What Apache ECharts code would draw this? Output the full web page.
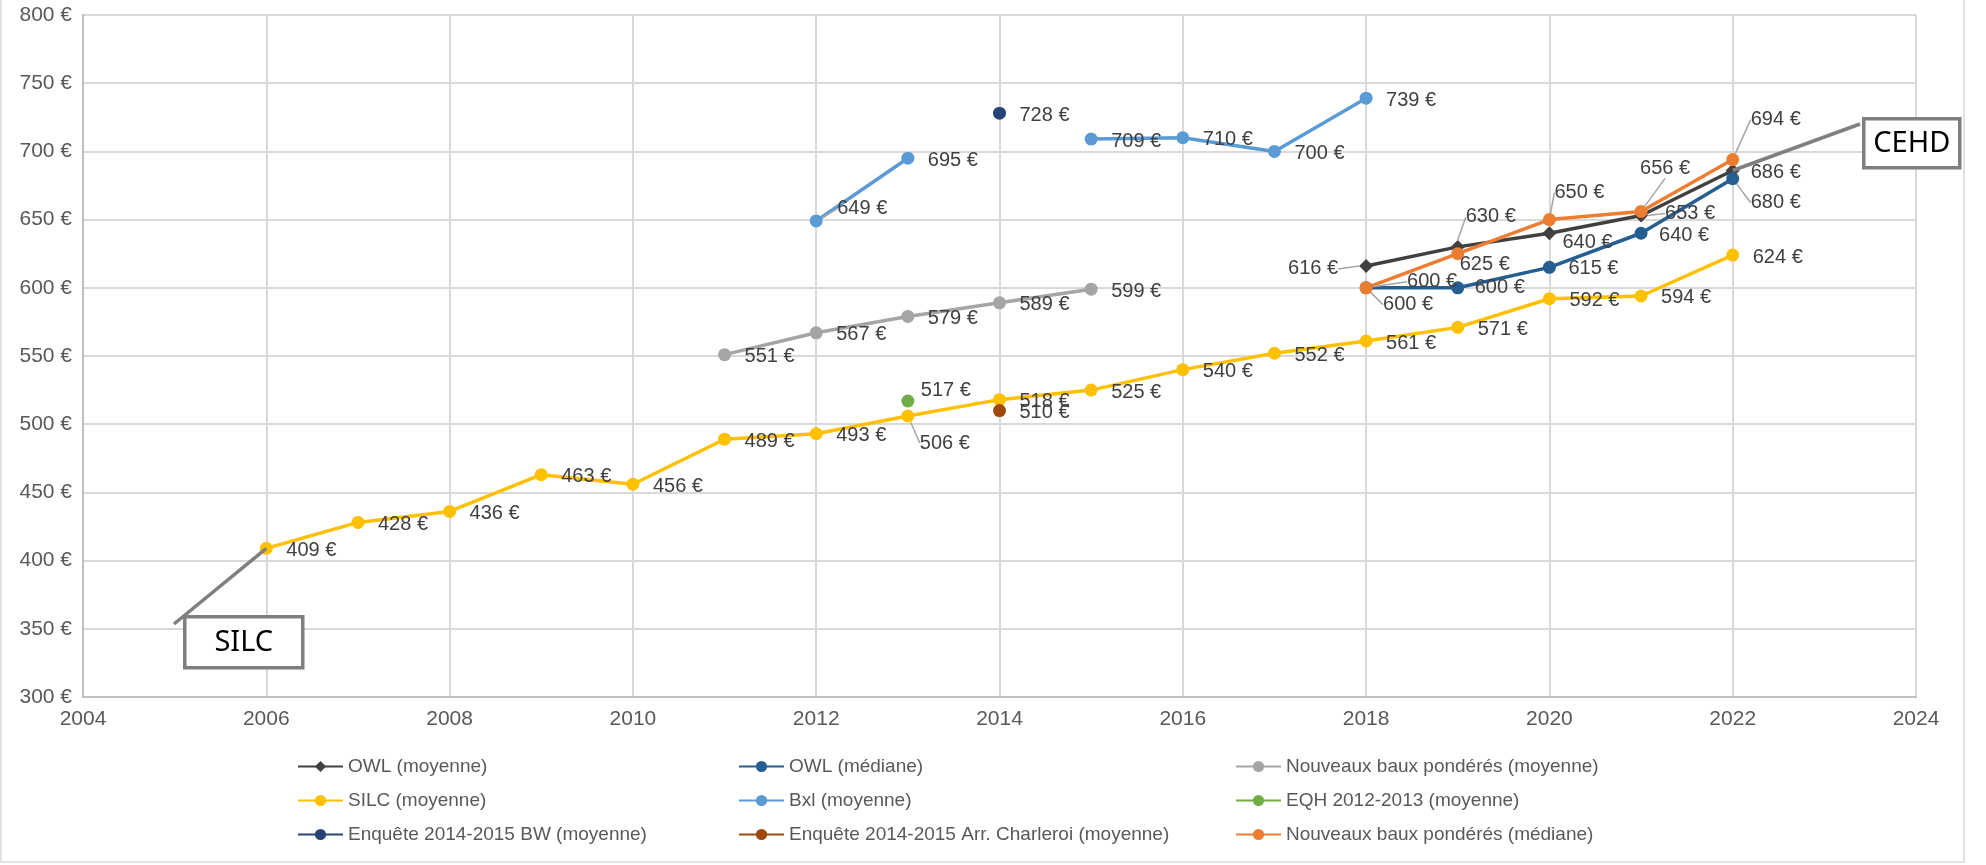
<!DOCTYPE html>
<html>
<head>
<meta charset="utf-8">
<script src="https://cdn.jsdelivr.net/npm/echarts@6/dist/echarts.min.js"></script>
<style>
  html, body { margin: 0; padding: 0; background: #ffffff; }
  #chart { width: 1986px; height: 865px; }
</style>
</head>
<body>
<div id="chart"></div>
<script>
// Loyers mensuels selon les différentes sources (en €)
const owlYears = [2018, 2019, 2020, 2021, 2022];
const owlMoyenne = [616, 630, 640, 653, 686];
const owlMediane = [600, 600, 615, 640, 680];

const nbMoyYears = [2011, 2012, 2013, 2014, 2015];
const nbMoyenne = [551, 567, 579, 589, 599];

const silcYears = [2006, 2007, 2008, 2009, 2010, 2011, 2012, 2013, 2014, 2015, 2016, 2017, 2018, 2019, 2020, 2021, 2022];
const silcMoyenne = [409, 428, 436, 463, 456, 489, 493, 506, 518, 525, 540, 552, 561, 571, 592, 594, 624];

const bxlYears = [2012, 2013, 2014, 2015, 2016, 2017, 2018];
const bxlMoyenne = [649, 695, null, 709, 710, 700, 739];

const eqhYears = [2013];
const eqhMoyenne = [517];

const bwYears = [2014];
const bwMoyenne = [728];

const charleroiYears = [2014];
const charleroiMoyenne = [510];

const nbMedYears = [2018, 2019, 2020, 2021, 2022];
const nbMediane = [600, 625, 650, 656, 694];

// axis ranges
const yearMin = 2004, yearMax = 2024, yearStep = 2;
const rentMin = 300, rentMax = 800, rentStep = 50;

// callout texts
const calloutSilc = 'SILC';
const calloutCehd = 'CEHD';

// ---- presentation ----
const FONT = '"Liberation Sans", Arial, sans-serif';
const LABEL_COLOR = '#404040';
const AXIS_TEXT = '#595959';
const LEAD_COLOR = '#A6A6A6';

// label placement per series / point: dx = left edge offset, dy = vertical centre offset,
// lead = leader line points relative to the marker centre
const DEFAULT_SPOT = { dx: 20, dy: 2 };
const labelSpots = {
  'OWL (moyenne)': {
    0: { dx: -28, dy: 3, align: 'right', lead: [[-8, 2], [-13, 2], [-19, 2]] },
    1: { dx: 8, dy: -30, lead: [[4, -4], [17, -9], [31, -15]] },
    2: { dx: 13, dy: 9 },
    3: { dx: 24, dy: -2, lead: [[9, -2], [15, -2], [22, -2]] },
    4: { dx: 18, dy: 2 }
  },
  'OWL (médiane)': {
    0: { dx: 41, dy: -6, lead: [[7, -9], [20, -9], [34, -9]] },
    1: { dx: 17, dy: 0 },
    2: { dx: 19, dy: 1 },
    3: { dx: 18, dy: 2 },
    4: { dx: 18, dy: 24, lead: [[1, 7], [1, 24], [14, 24]] }
  },
  'SILC (moyenne)': {
    7: { dx: 12, dy: 27, lead: [[5, 3], [20, 7], [36, 11]] }
  },
  'Bxl (moyenne)': {
    0: { dx: 21, dy: -12, lead: [[6, -4], [11, -7], [17, -10]] }
  },
  'EQH 2012-2013 (moyenne)': {
    0: { dx: 13, dy: -11 }
  },
  'Nouveaux baux pondérés (médiane)': {
    0: { dx: 17, dy: 17, lead: [[1, 7], [1, 16], [13, 16]] },
    1: { dx: 2, dy: 11 },
    2: { dx: 5, dy: -27, lead: [[6, -4], [17, -8], [29, -13]] },
    3: { dx: -1, dy: -43, lead: [[3, -6], [15, -17], [26, -29]] },
    4: { dx: 18, dy: -40, lead: [[1, -7], [1, -40], [14, -40]] }
  }
};

function pairs(xs, ys, name) {
  const spots = labelSpots[name] || {};
  return xs.map((x, i) => {
    const item = { value: [x, ys[i] == null ? '-' : ys[i]] };
    if (spots[i] && spots[i].lead) item.labelLine = { show: true };
    return item;
  });
}

function layoutFor(name) {
  const spots = labelSpots[name] || {};
  return function (p) {
    const r = p.rect;
    const cx = r.x + r.width / 2;
    const cy = r.y + r.height / 2;
    const s = spots[p.dataIndex] || DEFAULT_SPOT;
    const out = {
      x: cx + s.dx,
      y: cy + s.dy,
      align: s.align || 'left',
      verticalAlign: 'middle'
    };
    if (s.lead) out.labelLinePoints = s.lead.map(([a, b]) => [cx + a, cy + b]);
    return out;
  };
}

function lineSeries(name, xs, ys, color, symbol, symbolSize) {
  return {
    name: name,
    type: 'line',
    data: pairs(xs, ys, name),
    color: color,
    symbol: symbol || 'circle',
    symbolSize: symbolSize || 13,
    connectNulls: false,
    lineStyle: { color: color, width: 3.5 },
    itemStyle: { color: color },
    label: {
      show: true,
      formatter: (p) => p.value[1] + ' €',
      color: LABEL_COLOR,
      fontFamily: FONT,
      fontSize: 20
    },
    labelLine: { show: false, lineStyle: { color: LEAD_COLOR, width: 1.5 } },
    labelLayout: layoutFor(name),
    emphasis: { disabled: true },
    z: 3
  };
}

const series = [
  lineSeries('OWL (moyenne)', owlYears, owlMoyenne, '#404040', 'diamond', 14),
  lineSeries('OWL (médiane)', owlYears, owlMediane, '#255E91'),
  lineSeries('Nouveaux baux pondérés (moyenne)', nbMoyYears, nbMoyenne, '#A5A5A5'),
  lineSeries('SILC (moyenne)', silcYears, silcMoyenne, '#FFC000'),
  lineSeries('Bxl (moyenne)', bxlYears, bxlMoyenne, '#5B9BD5'),
  lineSeries('EQH 2012-2013 (moyenne)', eqhYears, eqhMoyenne, '#70AD47'),
  lineSeries('Enquête 2014-2015 BW (moyenne)', bwYears, bwMoyenne, '#264478'),
  lineSeries('Enquête 2014-2015 Arr. Charleroi (moyenne)', charleroiYears, charleroiMoyenne, '#9E480E'),
  lineSeries('Nouveaux baux pondérés (médiane)', nbMedYears, nbMediane, '#ED7D31')
];

const legendBase = {
  orient: 'vertical',
  top: 752,
  itemWidth: 45,
  itemHeight: 14,
  itemGap: 15,
  selectedMode: false,
  textStyle: { color: AXIS_TEXT, fontFamily: FONT, fontSize: 19 }
};

const option = {
  animation: false,
  backgroundColor: '#ffffff',
  grid: { left: 83, right: 70, top: 15, bottom: 168 },
  xAxis: {
    type: 'value',
    min: yearMin,
    max: yearMax,
    interval: yearStep,
    axisLine: { show: true, lineStyle: { color: '#BFBFBF', width: 2 } },
    axisTick: { show: false },
    axisLabel: {
      formatter: (v) => String(v),
      color: AXIS_TEXT,
      fontFamily: FONT,
      fontSize: 21,
      margin: 12
    },
    splitLine: { show: true, lineStyle: { color: '#D9D9D9', width: 2 } }
  },
  yAxis: {
    type: 'value',
    min: rentMin,
    max: rentMax,
    interval: rentStep,
    axisLine: { show: true, lineStyle: { color: '#BFBFBF', width: 2 } },
    axisTick: { show: false },
    axisLabel: {
      formatter: (v) => v + ' €',
      color: AXIS_TEXT,
      fontFamily: FONT,
      fontSize: 21,
      margin: 11
    },
    splitLine: { show: true, lineStyle: { color: '#D9D9D9', width: 2 } }
  },
  legend: [
    Object.assign({}, legendBase, { left: 292, data: ['OWL (moyenne)', 'SILC (moyenne)', 'Enquête 2014-2015 BW (moyenne)'] }),
    Object.assign({}, legendBase, { left: 733, data: ['OWL (médiane)', 'Bxl (moyenne)', 'Enquête 2014-2015 Arr. Charleroi (moyenne)'] }),
    Object.assign({}, legendBase, { left: 1230, data: ['Nouveaux baux pondérés (moyenne)', 'EQH 2012-2013 (moyenne)', 'Nouveaux baux pondérés (médiane)'] })
  ],
  series: series
};

const chart = echarts.init(document.getElementById('chart'), null, { renderer: 'canvas' });
chart.setOption(option);

// callout boxes linked to their source series
const silcPt = chart.convertToPixel({ gridIndex: 0 }, [silcYears[0], silcMoyenne[0]]);
const cehdPt = chart.convertToPixel({ gridIndex: 0 }, [owlYears[owlYears.length - 1], owlMoyenne[owlMoyenne.length - 1]]);
const CALLOUT_STROKE = '#7F7F7F';
const calloutFont = '29px "Noto Sans", "Open Sans", sans-serif';

chart.setOption({
  graphic: [
    // chart frame
    {
      type: 'polyline', z: 0, silent: true,
      shape: { points: [[1, 0], [1, 862], [1964, 862], [1964, 0]] },
      style: { stroke: '#D9D9D9', lineWidth: 1.5, fill: null }
    },
    {
      type: 'line', z: 5, silent: true,
      shape: { x1: silcPt[0], y1: silcPt[1], x2: 174, y2: 624 },
      style: { stroke: CALLOUT_STROKE, lineWidth: 3.5 }
    },
    {
      type: 'group', z: 10, left: 183, top: 615,
      children: [
        { type: 'rect', shape: { x: 0, y: 0, width: 118, height: 51 }, style: { fill: '#ffffff', stroke: CALLOUT_STROKE, lineWidth: 3.5 } },
        { type: 'text', style: { x: 59, y: 26, text: calloutSilc, font: calloutFont, fill: '#000000', align: 'center', verticalAlign: 'middle' } }
      ]
    },
    {
      type: 'line', z: 5, silent: true,
      shape: { x1: cehdPt[0], y1: cehdPt[1], x2: 1860, y2: 124 },
      style: { stroke: CALLOUT_STROKE, lineWidth: 3.5 }
    },
    {
      type: 'group', z: 10, left: 1862, top: 117,
      children: [
        { type: 'rect', shape: { x: 0, y: 0, width: 96, height: 49 }, style: { fill: '#ffffff', stroke: CALLOUT_STROKE, lineWidth: 3.5 } },
        { type: 'text', style: { x: 48, y: 25, text: calloutCehd, font: calloutFont, fill: '#000000', align: 'center', verticalAlign: 'middle' } }
      ]
    }
  ]
});
</script>
</body>
</html>
